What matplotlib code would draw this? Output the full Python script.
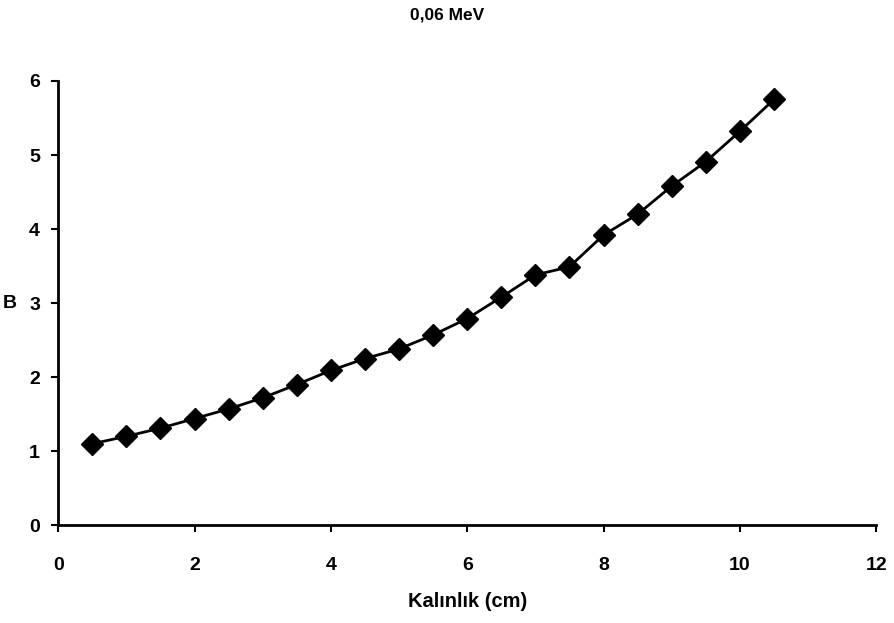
import numpy as np
import matplotlib.pyplot as plt

plt.rcParams['font.family'] = ['Liberation Sans', 'DejaVu Sans']
plt.rcParams['font.weight'] = 'bold'

thickness = [0.5, 1.0, 1.5, 2.0, 2.5, 3.0, 3.5, 4.0, 4.5, 5.0, 5.5,
             6.0, 6.5, 7.0, 7.5, 8.0, 8.5, 9.0, 9.5, 10.0, 10.5]
buildup = [1.10, 1.20, 1.31, 1.44, 1.57, 1.72, 1.90, 2.09, 2.25, 2.38, 2.57,
           2.79, 3.08, 3.38, 3.49, 3.92, 4.20, 4.58, 4.91, 5.32, 5.75]

fig = plt.figure(figsize=(8.95, 6.23), dpi=100)
ax = fig.add_axes([0.065, 0.157, 0.914, 0.713])

ax.plot(thickness, buildup, color='black', lw=2, marker='D', ms=11,
        markerfacecolor='black', markeredgecolor='black', clip_on=False)

ax.set_xlim(0, 12)
ax.set_ylim(0, 6)
ax.set_xticks(np.arange(0, 13, 2))
ax.set_yticks(np.arange(0, 7, 1))
for s in ['top', 'right']:
    ax.spines[s].set_visible(False)
for s in ['left', 'bottom']:
    ax.spines[s].set_linewidth(2)
ax.tick_params(width=1.5, length=5, labelsize=14)
ax.tick_params(axis='x', pad=18)
ax.tick_params(axis='y', pad=8)

ax.set_xlabel('Kalınlık (cm)', fontsize=14.5, fontweight='bold', labelpad=13)
ax.set_ylabel('B', fontsize=14, fontweight='bold', rotation=0, labelpad=14, va='center')
fig.text(0.5, 0.976, '0,06 MeV', ha='center', va='center', fontsize=12.5, fontweight='bold')

fig.savefig('out.png', dpi=100)
